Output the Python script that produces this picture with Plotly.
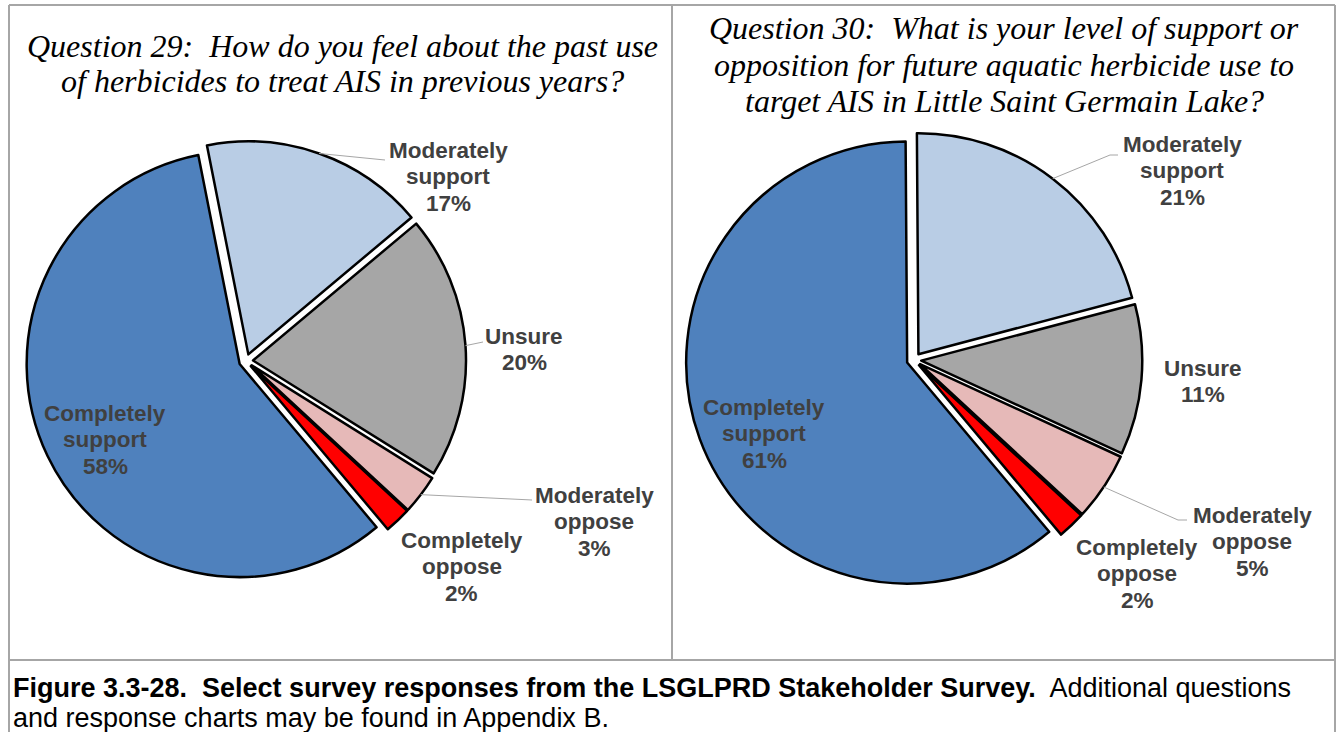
import math
import plotly.graph_objects as go

W, H = 1337, 732

# Survey response categories (in drawing order, clockwise) and shares in percent
categories = ["Completely support", "Moderately support", "Unsure",
              "Moderately oppose", "Completely oppose"]
q29_values = [58, 17, 20, 3, 2]
q30_values = [61, 21, 11, 5, 2]
slice_colors = ["#4F81BD", "#B9CDE5", "#A6A6A6", "#E6B9B8", "#FF0000"]

q29_title = ["Question 29:  How do you feel about the past use",
             "of herbicides to treat AIS in previous years?"]
q30_title = ["Question 30:  What is your level of support or",
             "opposition for future aquatic herbicide use to",
             "target AIS in Little Saint Germain Lake?"]

caption_bold = "Figure 3.3-28.  Select survey responses from the LSGLPRD Stakeholder Survey."
caption_rest = "  Additional questions"
caption_line2 = "and response charts may be found in Appendix B."

START_ANGLE = 140  # degrees clockwise from 12 o'clock
PULL = 0.033

# pie placement in pixels: centre x, centre y, radius
PIES = {
    "q29": dict(cx=246, cy=361, r=213),
    "q30": dict(cx=914, cy=360, r=221),
}

# label placement: (centre x, first line y) per category
LABEL_POS = {
    "q29": [(105, 413), (448, 150), (524, 336), (594, 495), (462, 540)],
    "q30": [(764, 407), (1182, 144), (1203, 368), (1252, 515), (1137, 547)],
}
# leader line end points (None = no leader line); optional elbow point
LEADERS = {
    "q29": [None, [(385, 160)], [(483, 342)], [(532, 500)], None],
    "q30": [None, [(1110, 155), (1118, 155)], None, [(1178, 520), (1187, 520)], None],
}

LINE_GAP = 26.7
LABEL_FONT = dict(family="Arial, Liberation Sans, sans-serif", size=22.5, color="#404040")
TITLE_FONT = dict(family="Times New Roman, Liberation Serif, serif", size=32, color="black")
CAP_FONT = dict(family="Arial, Liberation Sans, sans-serif", size=27, color="black")


def px(x):
    return x / W


def py(y):
    return 1 - y / H


def pie_domain(g):
    box = 2 * g["r"] * (1 + PULL)
    return dict(x=[px(g["cx"] - box / 2), px(g["cx"] + box / 2)],
                y=[py(g["cy"] + box / 2), py(g["cy"] - box / 2)])


def mid_angles(values):
    total = sum(values)
    out, a = [], START_ANGLE
    for v in values:
        span = 360 * v / total
        out.append(a + span / 2)
        a += span
    return out


def label_lines(cat):
    words = cat.split(" ")
    return words if len(words) > 1 else [cat]


fig = go.Figure()
annotations = []
shapes = []

for key, values, title_lines, title_y in [
    ("q29", q29_values, q29_title, [46, 81]),
    ("q30", q30_values, q30_title, [28, 65, 101]),
]:
    g = PIES[key]
    fig.add_trace(go.Pie(
        values=values, labels=categories, sort=False, direction="clockwise",
        rotation=START_ANGLE, pull=[PULL] * len(values),
        marker=dict(colors=slice_colors, line=dict(color="black", width=2.5)),
        textinfo="none", hoverinfo="label+percent", showlegend=False,
        domain=pie_domain(g),
    ))

    # titles
    panel_cx = 342 if key == "q29" else 1004
    for line, y in zip(title_lines, title_y):
        annotations.append(dict(
            text=f"<i>{line}</i>", x=px(panel_cx), y=py(y), xref="paper", yref="paper",
            xanchor="center", yanchor="middle", showarrow=False, font=TITLE_FONT,
        ))

    # slice labels
    mids = mid_angles(values)
    for i, (cat, v) in enumerate(zip(categories, values)):
        lx, ly = LABEL_POS[key][i]
        lines = label_lines(cat) + [f"{v}%"]
        for j, t in enumerate(lines):
            annotations.append(dict(
                text=f"<b>{t}</b>", x=px(lx), y=py(ly + j * LINE_GAP),
                xref="paper", yref="paper", xanchor="center", yanchor="middle",
                showarrow=False, font=LABEL_FONT,
            ))
        pts = LEADERS[key][i]
        if pts:
            a = math.radians(mids[i])
            rr = g["r"] * (1 + PULL)
            sx = g["cx"] + rr * math.sin(a)
            sy = g["cy"] - rr * math.cos(a)
            path_pts = [(sx, sy)] + pts
            for (x0, y0), (x1, y1) in zip(path_pts[:-1], path_pts[1:]):
                shapes.append(dict(type="line", xref="paper", yref="paper",
                                   x0=px(x0), y0=py(y0), x1=px(x1), y1=py(y1),
                                   line=dict(color="#A6A6A6", width=1)))

# table borders
BORDER = dict(color="#A6A6A6", width=2)
for x0, y0, x1, y1 in [
    (9, 5, 1335, 5),      # top
    (9, 5, 9, H),         # left
    (1335, 5, 1335, H),   # right
    (672, 5, 672, 660),   # divider between panels
    (9, 660, 1335, 660),  # above caption
]:
    shapes.append(dict(type="line", xref="paper", yref="paper",
                       x0=px(x0), y0=py(y0), x1=px(x1), y1=py(y1), line=BORDER))

# caption
annotations.append(dict(
    text=f"<b>{caption_bold}</b>{caption_rest}", x=px(11), y=py(688),
    xref="paper", yref="paper", xanchor="left", yanchor="middle",
    showarrow=False, font=CAP_FONT,
))
annotations.append(dict(
    text=caption_line2, x=px(11), y=py(718),
    xref="paper", yref="paper", xanchor="left", yanchor="middle",
    showarrow=False, font=CAP_FONT,
))

fig.update_layout(
    width=W, height=H, margin=dict(l=0, r=0, t=0, b=0),
    paper_bgcolor="white", plot_bgcolor="white",
    annotations=annotations, shapes=shapes,
)

fig.write_html("out.html")
